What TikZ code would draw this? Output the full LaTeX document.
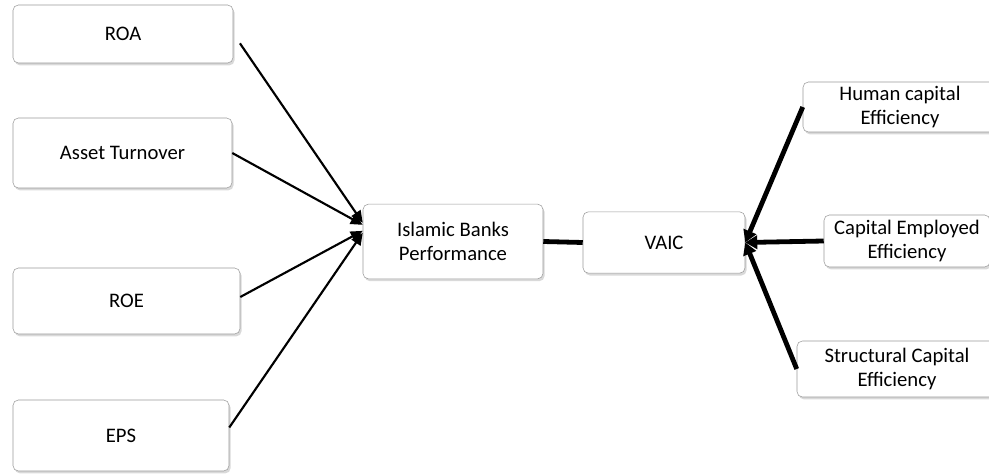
\documentclass[tikz,border=0pt]{standalone}
\usepackage{fontspec}
\setmainfont{Carlito}
\usetikzlibrary{shadows,arrows.meta}

\begin{document}
\begin{tikzpicture}[x=0.75pt, y=-0.75pt,
    box/.style={draw=black!40, rounded corners=4pt, fill=white, align=center,
      inner sep=1pt, font=\fontsize{15.5}{17.5}\selectfont,
      drop shadow={shadow xshift=1.2pt, shadow yshift=-1.8pt, opacity=0.3}},
    leftlink/.style={line width=1.6pt, -{Triangle[length=9pt, width=8pt]}},
    rightlink/.style={line width=3.6pt, -{Triangle[length=9pt, width=10pt]}}]
  \useasboundingbox (0,0) rectangle (989,474);
  \clip (0,0) rectangle (989,474);

  % measures on the left
  \foreach \n/\t/\x/\y/\w/\h in {roa/ROA/123/34/220/58, at/Asset Turnover/122.5/153/219/70,
                                 roe/ROE/126.5/301/227/66, eps/EPS/121/435.5/216/71}
  {
    \node [box, minimum width=\w*0.75pt, minimum height=\h*0.75pt] (\n) at (\x, \y) {\t};
  }

  \node [box, minimum width=135pt, minimum height=56pt] (ibp) at (453, 241.5)
    {Islamic Banks\\Performance};
  \node [box, minimum width=121.5pt, minimum height=46pt] (vaic) at (664, 242.5) {VAIC};

  % components of VAIC
  \node [box, minimum width=145.5pt, minimum height=37.5pt] (hce) at (900, 107)
    {Human capital\\Efficiency};
  \node [box, minimum width=124.5pt, minimum height=39pt] (cee) at (907, 241)
    {Capital Employed\\Efficiency};
  \node [box, minimum width=150pt, minimum height=42pt] (sce) at (897, 369)
    {Structural Capital\\Efficiency};

  \draw [leftlink] ([xshift=5pt, yshift=-7pt]roa.east) -- ([yshift=14pt]ibp.west);
  \draw [leftlink] (at.east) -- ([yshift=12.5pt]ibp.west);
  \draw [leftlink] ([yshift=3pt]roe.east) -- ([yshift=8pt]ibp.west);
  \draw [leftlink] ([yshift=6pt]eps.east) -- ([yshift=6.5pt]ibp.west);

  \draw [line width=3.6pt] (ibp.east) -- (vaic.west);

  \draw [rightlink] (hce.west) -- (vaic.east);
  \draw [rightlink] (cee.west) -- (vaic.east);
  \draw [rightlink] (sce.west) -- (vaic.east);
\end{tikzpicture}
\end{document}
